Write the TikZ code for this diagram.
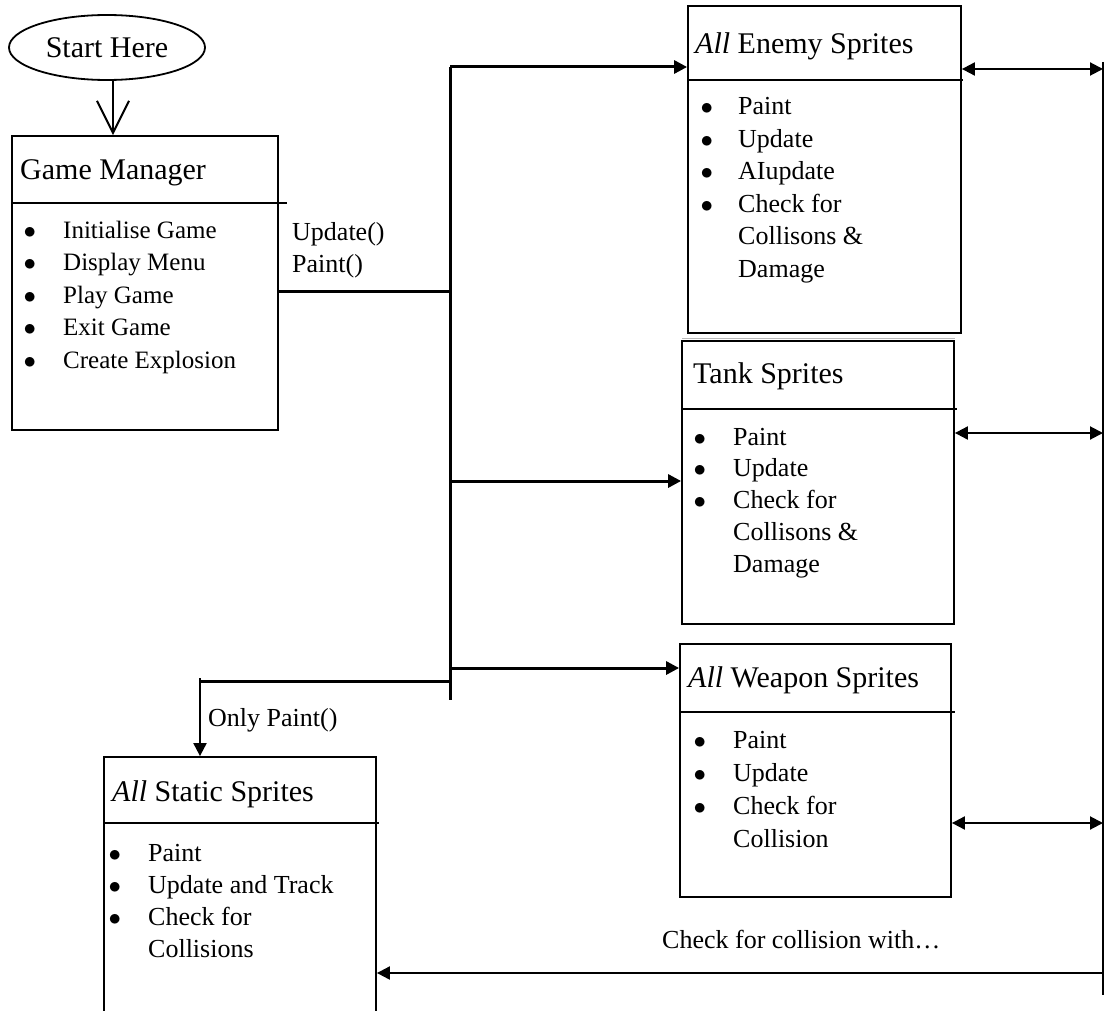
\documentclass[tikz,border=0pt]{standalone}
\usepackage{fontspec}
\setmainfont{Liberation Serif}
\usetikzlibrary{shapes.geometric,arrows.meta}

% bullet with a fixed gap before the item text, and the matching indent
\newcommand\bul[1][39.5pt]{\makebox[#1][l]{$\bullet$}}
\newcommand\ind[1][39.5pt]{\hspace*{#1}}

\begin{document}
\begin{tikzpicture}[x=1pt,y=-1pt,
  box/.style={draw, rectangle, line width=1.8pt, inner sep=0pt},
  divider/.style={line width=1.8pt},
  title/.style={anchor=base west, inner sep=0pt, font=\fontsize{30}{36}\selectfont},
  item/.style={anchor=base west, inner sep=0pt, font=\fontsize{26}{32}\selectfont},
  smallitem/.style={anchor=base west, inner sep=0pt, font=\fontsize{25}{32}\selectfont},
  note/.style={anchor=base west, inner sep=0pt, font=\fontsize{26}{32}\selectfont},
  bus/.style={line width=3pt},
  feed/.style={line width=3pt, -{Triangle[length=13pt,width=13pt]}},
  drop/.style={line width=2pt, -{Triangle[length=13pt,width=13pt]}},
  link/.style={line width=2pt, {Triangle[length=13pt,width=13pt]}-{Triangle[length=13pt,width=13pt]}},
  back/.style={line width=2pt, -{Triangle[length=13pt,width=13pt]}},
  rail/.style={line width=1.5pt}
]
\useasboundingbox (0,0) rectangle (1105,1011);

% ---------- start and game manager ----------
\node[draw, ellipse, line width=1.8pt, minimum width=196pt, minimum height=65pt,
      inner sep=0pt, font=\fontsize{30}{36}\selectfont] (start) at (107,47.5) {Start Here};

\node[box, minimum width=266pt, minimum height=294pt] (gm) at (145,283) {};
\draw[divider] (gm.west |- 0,203) -- (287,203);
\node[title] (gm-title) at (20,180) {Game Manager};
\foreach \t [count=\i from 0] in {{\bul Initialise Game},{\bul Display Menu},
    {\bul Play Game},{\bul Exit Game},{\bul Create Explosion}}
  \node[smallitem] (gm-\i) at (23.5,238+\i*32.5) {\t};

\draw[line width=2pt, -{Straight Barb[length=32pt,width=32pt,line width=2pt]}]
  (start.south -| 113,0) -- (gm.north -| 113,0);

% ---------- enemy sprites ----------
\node[box, minimum width=273pt, minimum height=327pt] (enemy) at (824.5,169.5) {};
\draw[divider] (enemy.west |- 0,80) -- (963,80);
\node[title] (enemy-title) at (695,54) {\textit{All} Enemy Sprites};
\foreach \t [count=\i from 0] in {{\bul[37.5pt]Paint},{\bul[37.5pt]Update},
    {\bul[37.5pt]AIupdate},{\bul[37.5pt]Check for},{\ind[37.5pt]Collisons \&},
    {\ind[37.5pt]Damage}}
  \node[item] (enemy-\i) at (700.5,115+\i*32.4) {\t};

\draw[gray!55, line width=1pt] (682,338) -- (955,338);

% ---------- tank sprites ----------
\node[box, minimum width=272pt, minimum height=283pt] (tank) at (818,482.5) {};
\draw[divider] (tank.west |- 0,409) -- (957,409);
\node[title] (tank-title) at (693,383) {Tank Sprites};
\foreach \t [count=\i from 0] in {{\bul Paint},{\bul Update},{\bul Check for},
    {\ind Collisons \&},{\ind Damage}}
  \node[item] (tank-\i) at (693.5,445+\i*31.75) {\t};

% ---------- weapon sprites ----------
\node[box, minimum width=271pt, minimum height=253pt] (weapon) at (815.5,770.5) {};
\draw[divider] (weapon.west |- 0,712) -- (955,712);
\node[title] (weapon-title) at (688,687) {\textit{All} Weapon Sprites};
\foreach \t [count=\i from 0] in {{\bul Paint},{\bul Update},{\bul Check for},
    {\ind Collision}}
  \node[item] (weapon-\i) at (693.5,748+\i*33) {\t};

% ---------- static sprites (runs off the page) ----------
\node[box, minimum width=272pt, minimum height=303pt] (static) at (240,908.5) {};
\draw[divider] (static.west |- 0,823) -- (379,823);
\node[title] (static-title) at (112,801) {\textit{All} Static Sprites};
\foreach \t [count=\i from 0] in {{\bul Paint},{\bul Update and Track},
    {\bul Check for},{\ind Collisions}}
  \node[item] (static-\i) at (108.5,861+\i*32.3) {\t};

% ---------- call bus from the game manager ----------
\coordinate (busT) at (450,67);
\coordinate (busB) at (450,700);
\coordinate (busGM) at (450,291);
\coordinate (busTank) at (450,481);
\coordinate (busW) at (450,668);
\coordinate (busS) at (450,681);
\coordinate (dropS) at (200,681);

\draw[bus] (busT) -- (busB);
\draw[bus] (gm.east |- busGM) -- (busGM);
\draw[feed] (busT) -- (enemy.west |- busT);
\draw[feed] (busTank) -- (tank.west |- busTank);
\draw[feed] (busW) -- (weapon.west |- busW);
\draw[bus] (busS) -- (dropS);
\draw[drop] ([yshift=3pt]dropS) -- (static.north -| dropS);

\node[note] (calls1) at (292,240) {Update()};
\node[note] (calls2) at (292,272) {Paint()};
\node[note] (only) at (208,726) {Only Paint()};

% ---------- collision rail ----------
\coordinate (railT) at (1103,62);
\coordinate (railB) at (1103,995);
\draw[rail] (railT) -- (railB);
\draw[link] (enemy.east |- 0,69) -- (railT |- 0,69);
\draw[link] (tank.east |- 0,433) -- (railT |- 0,433);
\draw[link] (weapon.east |- 0,823) -- (railT |- 0,823);
\draw[back] (railT |- 0,973) -- (static.east |- 0,973);
\node[note] (check) at (662,948) {Check for collision with…};
\end{tikzpicture}
\end{document}
